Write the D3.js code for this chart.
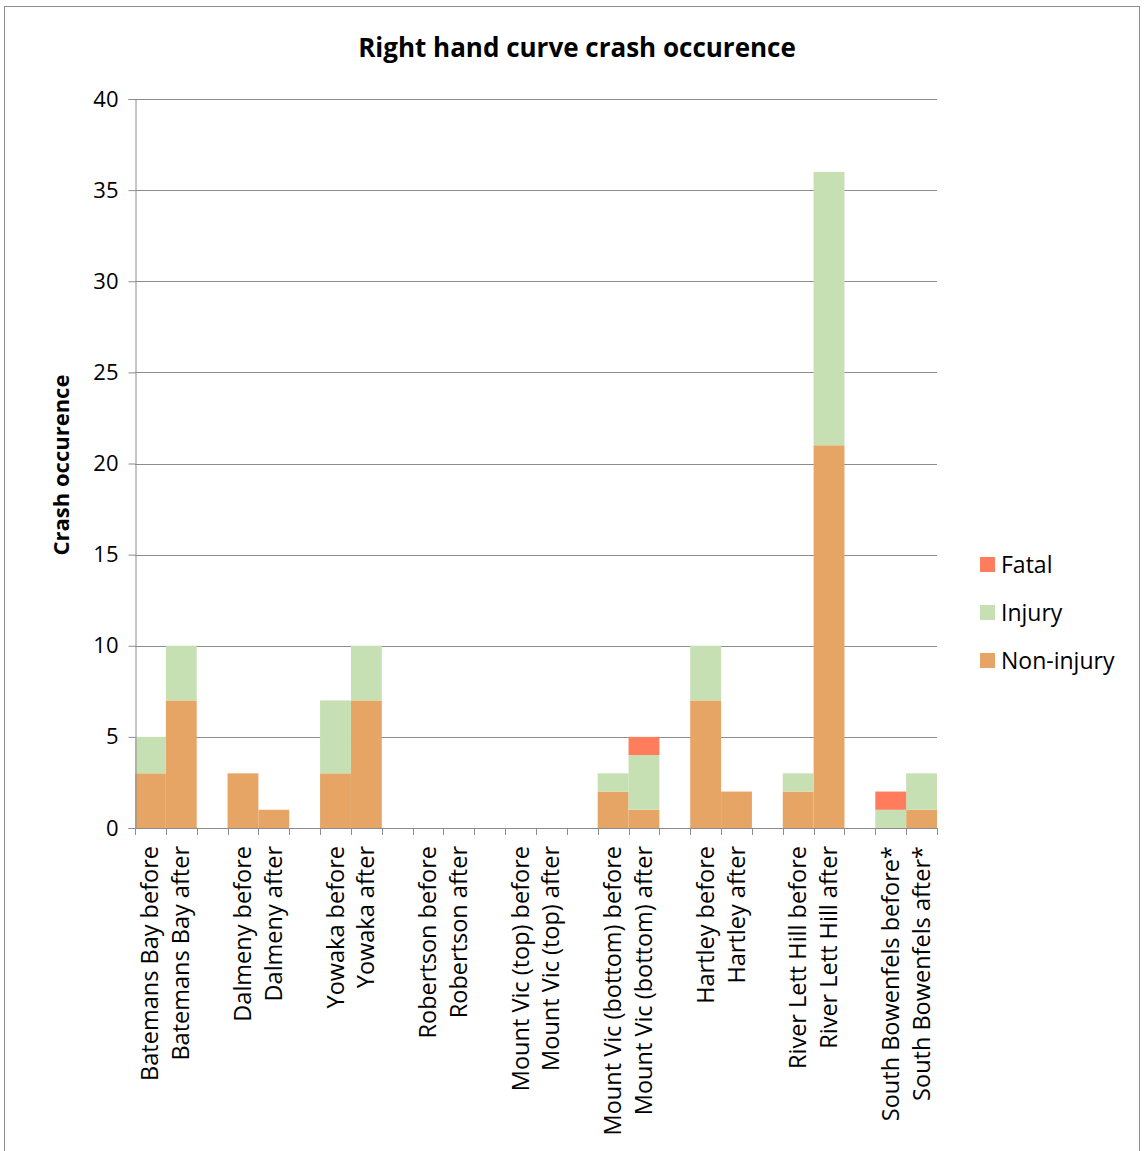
<!DOCTYPE html>
<html>
<head>
<meta charset="utf-8">
<script src="https://cdn.jsdelivr.net/npm/d3@7"></script>
<style>
  html, body { margin: 0; padding: 0; background: #fff; }
  svg text { font-family: "Open Sans", "Noto Sans", sans-serif; fill: #000; }
</style>
</head>
<body>
<svg id="chart" width="1144" height="1151"></svg>
<script>
// Sites, grouped in before/after pairs; "" marks the empty slot between pairs
const categories = [
  "Batemans Bay before", "Batemans Bay after", "",
  "Dalmeny before", "Dalmeny after", "",
  "Yowaka before", "Yowaka after", "",
  "Robertson before", "Robertson after", "",
  "Mount Vic (top) before", "Mount Vic (top) after", "",
  "Mount Vic (bottom) before", "Mount Vic (bottom) after", "",
  "Hartley before", "Hartley after", "",
  "River Lett Hill before", "River Lett Hill after", "",
  "South Bowenfels before*", "South Bowenfels after*"
];
const nonInjury = [3, 7, 0, 3, 1, 0, 3, 7, 0, 0, 0, 0, 0, 0, 0, 2, 1, 0, 7, 2, 0, 2, 21, 0, 0, 1];
const injury    = [2, 3, 0, 0, 0, 0, 4, 3, 0, 0, 0, 0, 0, 0, 0, 1, 3, 0, 3, 0, 0, 1, 15, 0, 1, 2];
const fatal     = [0, 0, 0, 0, 0, 0, 0, 0, 0, 0, 0, 0, 0, 0, 0, 0, 1, 0, 0, 0, 0, 0, 0, 0, 1, 0];
const seriesNames = ["Non-injury", "Injury", "Fatal"];
const seriesColors = ["#E6A564", "#C6E0B4", "#FF7C5C"];
const yTicks = [0, 5, 10, 15, 20, 25, 30, 35, 40];

const svg = d3.select("#chart");
const plotLeft = 135, plotRight = 937, plotTop = 99, plotBottom = 828;

// Outer chart frame
svg.append("rect")
  .attr("x", 4.5).attr("y", 6.5).attr("width", 1135).attr("height", 1160)
  .attr("fill", "none").attr("stroke", "#8c8c8c").attr("stroke-width", 1);

const keys = categories.map((c, i) => c === "" ? "gap" + i : c);
const x = d3.scaleBand().domain(keys).range([plotLeft, plotRight]).padding(0);
const y = d3.scaleLinear().domain([0, 40]).range([plotBottom, plotTop]);

// Horizontal gridlines
svg.append("g").selectAll("line").data(yTicks.filter(t => t > 0)).join("line")
  .attr("x1", plotLeft).attr("x2", plotRight)
  .attr("y1", d => Math.round(y(d)) + 0.5).attr("y2", d => Math.round(y(d)) + 0.5)
  .attr("stroke", "#8c8c8c").attr("stroke-width", 1);

// Stacked bars
const rows = keys.map((k, i) => ({ key: k, "Non-injury": nonInjury[i], "Injury": injury[i], "Fatal": fatal[i] }));
const stack = d3.stack().keys(seriesNames)(rows);
svg.append("g").selectAll("g").data(stack).join("g")
  .attr("fill", (d, i) => seriesColors[i])
  .selectAll("rect").data(d => d.filter(p => p[1] > p[0])).join("rect")
  .attr("x", d => x(d.data.key))
  .attr("width", x.bandwidth())
  .attr("y", d => y(d[1]))
  .attr("height", d => y(d[0]) - y(d[1]));

// Y axis
const yAxis = d3.axisLeft(y).tickValues(yTicks).tickSize(7).tickPadding(10).tickFormat(d3.format("d"));
const gy = svg.append("g").attr("transform", `translate(${plotLeft + 0.5},0)`).call(yAxis);
gy.select(".domain").attr("stroke", "#8c8c8c");
gy.selectAll(".tick line").attr("stroke", "#8c8c8c");
gy.selectAll(".tick text").attr("font-size", 22).attr("font-family", "'Open Sans', sans-serif").attr("fill", "#000");

// X axis baseline and boundary ticks
const gx = svg.append("g");
gx.append("line").attr("x1", plotLeft).attr("x2", plotRight)
  .attr("y1", plotBottom + 0.5).attr("y2", plotBottom + 0.5).attr("stroke", "#8c8c8c");
const bounds = keys.map(k => x(k)).concat([plotRight]);
gx.selectAll("line.tk").data(bounds).join("line").attr("class", "tk")
  .attr("x1", d => Math.round(d) + 0.5).attr("x2", d => Math.round(d) + 0.5)
  .attr("y1", plotBottom).attr("y2", plotBottom + 7).attr("stroke", "#8c8c8c");

// Category labels, rotated
gx.selectAll("text").data(keys.filter((k, i) => categories[i] !== "")).join("text")
  .attr("transform", d => `translate(${x(d) + x.bandwidth() / 2 + 8},${plotBottom + 18}) rotate(-90)`)
  .attr("text-anchor", "end")
  .attr("font-size", 23.5)
  .text(d => d);

// Title
svg.append("text").attr("x", 577).attr("y", 57).attr("text-anchor", "middle")
  .attr("font-size", 26).attr("font-weight", "bold").text("Right hand curve crash occurence");

// Y axis title
svg.append("text").attr("transform", "translate(69,465) rotate(-90)")
  .attr("text-anchor", "middle").attr("font-size", 22).attr("font-weight", "bold")
  .text("Crash occurence");

// Legend (top-down: Fatal, Injury, Non-injury)
const legendItems = seriesNames.map((n, i) => ({ name: n, color: seriesColors[i] })).reverse();
const lg = svg.append("g").selectAll("g").data(legendItems).join("g")
  .attr("transform", (d, i) => `translate(980,${557 + i * 48})`);
lg.append("rect").attr("width", 15).attr("height", 15).attr("fill", d => d.color);
lg.append("text").attr("x", 21).attr("y", 16).attr("font-size", 23).text(d => d.name);
</script>
</body>
</html>
